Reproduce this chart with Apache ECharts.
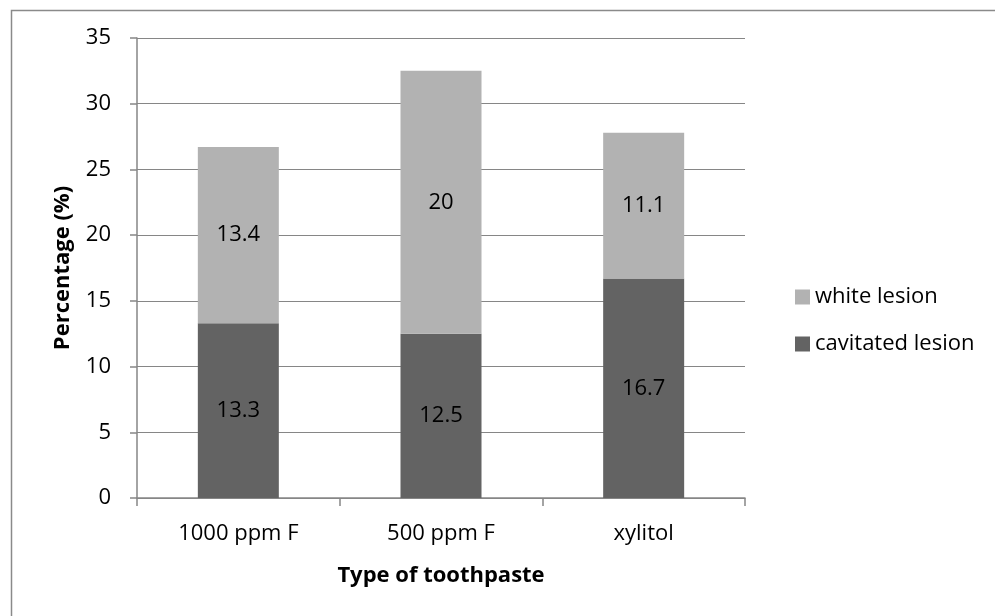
<!DOCTYPE html>
<html>
<head>
<meta charset="utf-8">
<script src="https://cdn.jsdelivr.net/npm/echarts@6/dist/echarts.min.js"></script>
<style>html,body{margin:0;padding:0;background:#fff}#c{width:995px;height:616px}</style>
</head>
<body>
<div id="c"></div>
<script>
var categories = ['1000 ppm F', '500 ppm F', 'xylitol'];
var cavitated = [13.3, 12.5, 16.7];
var white = [13.4, 20, 11.1];
var seriesNames = ['white lesion', 'cavitated lesion'];

var FONT = 'Open Sans';
var chart = echarts.init(document.getElementById('c'), null, {renderer: 'canvas'});
var labelStyle = {show: true, position: 'inside', color: '#000', fontFamily: FONT, fontSize: 22};
chart.setOption({
  animation: false,
  backgroundColor: '#fff',
  graphic: [{
    type: 'rect', left: 9, top: 8, silent: true,
    shape: {x: 0, y: 0, width: 1100, height: 800},
    style: {fill: 'none', stroke: '#8a8a8a', lineWidth: 1.5}
  }],
  grid: {left: 137, right: 250, top: 38, bottom: 118},
  legend: {
    orient: 'vertical', left: 790, top: 280,
    data: seriesNames,
    itemWidth: 15, itemHeight: 15, itemGap: 23,
    icon: 'rect',
    textStyle: {fontFamily: FONT, fontSize: 22, color: '#000', lineHeight: 24}
  },
  xAxis: {
    type: 'category', data: categories,
    name: 'Type of toothpaste', nameLocation: 'middle', nameGap: 67,
    nameTextStyle: {fontFamily: FONT, fontSize: 22, fontWeight: 'bold', color: '#000'},
    axisLine: {lineStyle: {color: '#868686', width: 1.5}},
    axisTick: {show: true, length: 8, lineStyle: {color: '#868686', width: 1.5}},
    axisLabel: {fontFamily: FONT, fontSize: 22, color: '#000', margin: 25}
  },
  yAxis: {
    type: 'value', min: 0, max: 35, interval: 5,
    name: 'Percentage (%)', nameLocation: 'middle', nameGap: 63,
    nameTextStyle: {fontFamily: FONT, fontSize: 22, fontWeight: 'bold', color: '#000'},
    axisLine: {show: true, lineStyle: {color: '#868686', width: 1.5}},
    axisTick: {show: true, length: 7, lineStyle: {color: '#868686', width: 1.5}},
    axisLabel: {fontFamily: FONT, fontSize: 22, color: '#000', margin: 26},
    splitLine: {lineStyle: {color: '#868686', width: 1.2}}
  },
  series: [
    {name: 'cavitated lesion', type: 'bar', stack: 's', data: cavitated, barWidth: 81,
     itemStyle: {color: '#636363'}, label: labelStyle},
    {name: 'white lesion', type: 'bar', stack: 's', data: white, barWidth: 81,
     itemStyle: {color: '#b2b2b2'}, label: labelStyle}
  ]
});
</script>
</body>
</html>
